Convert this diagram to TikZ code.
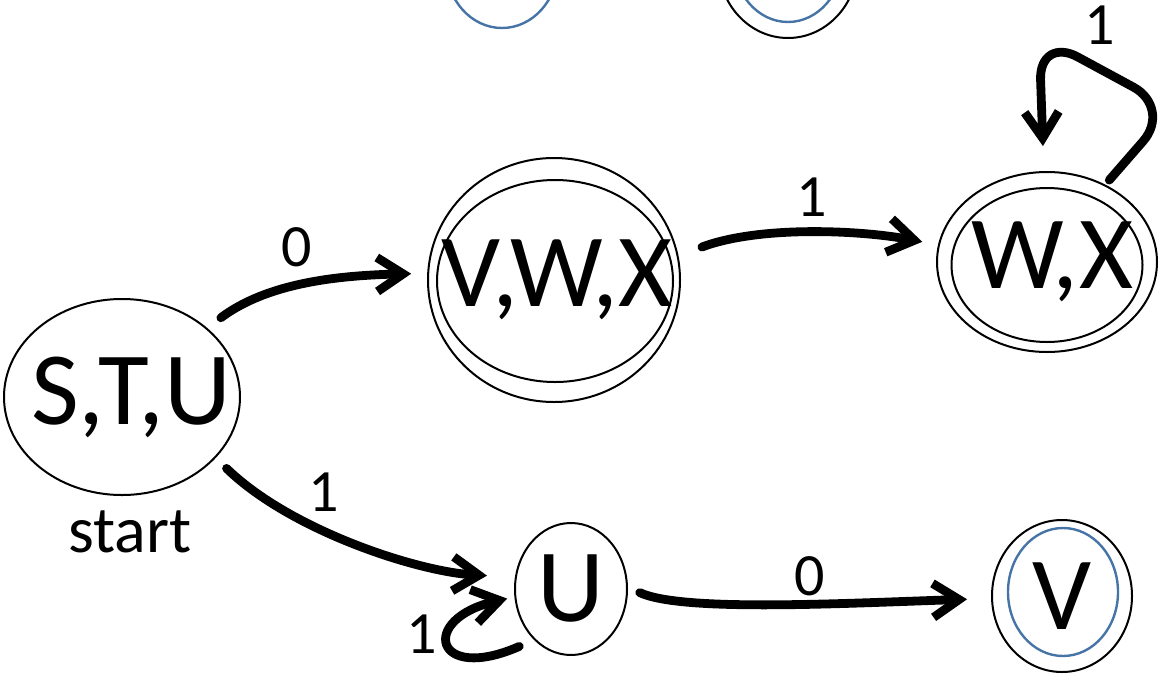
\documentclass[tikz,border=0pt]{standalone}
\usepackage{fontspec}
\setmainfont{Carlito}
\usetikzlibrary{shapes.geometric,arrows.meta}
\definecolor{stateblue}{RGB}{70,116,166}
\begin{document}
\begin{tikzpicture}[x=0.5pt,y=-0.5pt,
		state/.style={draw,ellipse,line width=1pt,inner sep=0pt,font=\fontsize{52}{62}\selectfont},
		trans/.style={line width=4.4pt,line cap=round,line join=round,-{Straight Barb[length=13pt,width=17pt]}},
		lbl/.style={font=\fontsize{30}{36}\selectfont,inner sep=0pt}]
		\useasboundingbox (0,0) rectangle (1162,675);
		\clip (0,0) rectangle (1162,675);
		
		\node[state,draw=stateblue,line width=1.2pt,minimum width=56pt,minimum height=63pt] (ta) at (502,-35) {};
		\node[state,minimum width=70pt,minimum height=76pt] (tb) at (788,-38) {};
		\draw[stateblue,line width=1.2pt] (788,-42) ellipse (27.5pt and 32pt);
		
		\node[state,minimum width=118pt,minimum height=98pt] (stu) at (122,397) {\makebox[0pt]{\hspace*{9pt}S,T,U}};
		\node[lbl,font=\fontsize{33}{40}\selectfont] (start) at (130,532) {start};
		
		\node[state,minimum width=126pt,minimum height=122pt] (vwx) at (554,280) {\makebox[0pt]{\hspace*{3pt}V,W,X}};
		\draw[line width=1pt] (555,281) ellipse (59pt and 50.5pt);
		
		\node[state,minimum width=110pt,minimum height=90pt] (wx) at (1047,262) {\makebox[0pt]{\hspace*{5pt}W,X}};
		\draw[line width=1pt] (1047,265) ellipse (47.75pt and 38.5pt);
		
		\node[state,minimum width=56pt,minimum height=66pt] (u) at (571,589) {\makebox[0pt]{U}};
		
		\node[state,minimum width=70pt,minimum height=76pt] (v) at (1062,596) {\makebox[0pt]{V}};
		\draw[stateblue,line width=1.2pt] (1063,592) ellipse (27.5pt and 32pt);
		
		\draw[trans,shorten <=8.5pt,shorten >=8pt] (stu.39) .. controls +(60,-45) and +(-90,2) .. (vwx.177);
		\node[lbl] (l1) at (297,247) {0};
		
		\draw[trans,shorten <=12.5pt,shorten >=8pt] (vwx.11) .. controls +(80,-30) and +(-80,-15) .. (wx.171);
		\node[lbl] (l2) at (812,197) {1};
		
		\draw[trans,rounded corners=22pt,shorten <=3pt,shorten >=12.5pt] (wx.53) -- (1172,108) -- (1039,36) -- (wx.92);
		\node[lbl] (l3) at (1100,25) {1};
		
		\draw[trans,shorten <=7.5pt,shorten >=14pt] (stu.-33) .. controls +(75,73) and +(-96,-5) .. (u.168);
		\node[lbl] (l4) at (324,492) {1};
		
		\draw[trans,shorten <=8pt,shorten >=3.7pt] (u.234) .. controls +(-100,44) and +(-96,22) .. (u.188);
		\node[lbl] (l5) at (422,634) {1};
		
		\draw[trans,shorten <=6.5pt,shorten >=12pt] (u.2) .. controls +(53,25) and +(-152,5) .. (v.182);
		\node[lbl] (l6) at (810,576) {0};
		
\end{tikzpicture}
\end{document}
